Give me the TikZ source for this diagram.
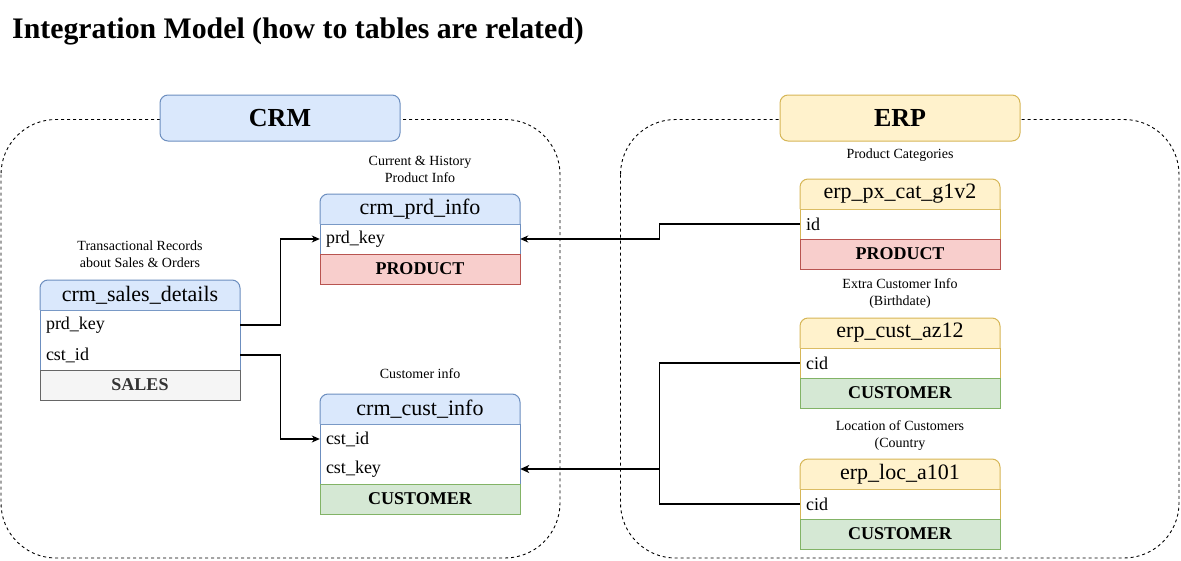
\documentclass[tikz,border=0pt]{standalone}
\usepackage{fontspec}
\setmainfont{Liberation Serif}
\usetikzlibrary{arrows.meta,calc}
\definecolor{bluef}{HTML}{DAE8FC}
\definecolor{blues}{HTML}{6C8EBF}
\definecolor{yelf}{HTML}{FFF2CC}
\definecolor{yels}{HTML}{D6B656}
\definecolor{redf}{HTML}{F8CECC}
\definecolor{reds}{HTML}{B85450}
\definecolor{grnf}{HTML}{D5E8D4}
\definecolor{grns}{HTML}{82B366}
\definecolor{gryf}{HTML}{F5F5F5}
\definecolor{grys}{HTML}{666666}
\definecolor{grytxt}{HTML}{333333}
% #1 name, #2 x, #3 top y, #4 fill, #5 stroke, #6 text, #7 number of rows
\newcommand\mytable[7]{%
  \path[fill=white,draw=#5,line width=1pt] (#2,#3+30) rectangle (#2+200,#3+30+30*#7);
  \path[fill=#4,draw=#5,line width=1pt,rounded corners=8] (#2,#3+30) -- (#2,#3) -- (#2+200,#3) -- (#2+200,#3+30);
  \node[hdrtext] (#1) at (#2+100,#3+15) {#6};
}
\tikzset{
  hdrtext/.style={inner sep=0pt,font=\fontsize{22}{26}\selectfont},
  rowtext/.style={minimum width=200pt,minimum height=30pt,text width=188pt,align=left,inner xsep=6pt,inner ysep=0pt,font=\fontsize{18}{21}\selectfont},
  foot/.style={minimum width=200pt,minimum height=30pt,inner sep=0pt,line width=1pt,font=\fontsize{18}{21}\selectfont\bfseries},
  note/.style={align=center,inner sep=0pt,font=\fontsize{14}{17}\selectfont},
  titlebox/.style={minimum width=240pt,minimum height=46pt,rounded corners=8pt,line width=1pt,font=\fontsize{26}{30}\selectfont\bfseries},
  container/.style={draw=black,line width=0.9pt,dash pattern=on 3pt off 3pt,rounded corners=55pt},
  conn/.style={draw=black,line width=1.2pt,-{Stealth[length=8pt,width=7pt,inset=2.5pt]}},
  plain/.style={draw=black,line width=1.2pt},
  thickconn/.style={draw=black,line width=2pt,-{Stealth[length=9pt,width=8pt,inset=2.5pt]}}
}
\begin{document}
\begin{tikzpicture}[x=1pt,y=-1pt]
\useasboundingbox (0,0) rectangle (1181,560);
% title
\node[anchor=base west,inner sep=0pt,font=\fontsize{29.8}{34}\selectfont\bfseries] (title) at (12,38) {Integration Model (how to tables are related)};
% containers
\path[container] (1,119.5) rectangle (560,558);
\path[container] (620.5,119.5) rectangle (1179,558);
\node[titlebox,fill=bluef,draw=blues] (crm) at (280,118) {CRM};
\node[titlebox,fill=yelf,draw=yels] (erp) at (900,118) {ERP};
% notes
\node[note] (n1) at (420,169.5) {Current \& History\\Product Info};
\node[note] (n2) at (140,254.5) {Transactional Records\\about Sales \& Orders};
\node[note] (n3) at (420,374) {Customer info};
\node[note] (n4) at (900,155) {Product Categories};
\node[note] (n5) at (900,294) {Extra Customer Info\\(Birthdate)};
\node[note] (n6) at (900,435.5) {Location of Customers\\(Country};
% crm_sales_details
\mytable{sd}{40}{280}{bluef}{blues}{crm\_sales\_details}{2}
\node[rowtext] (sd_prd) at (140,325) {prd\_key};
\node[rowtext] (sd_cst) at (140,355) {cst\_id};
\node[foot,fill=gryf,draw=grys,text=grytxt] (sd_foot) at (140,385) {SALES};
% crm_prd_info
\mytable{pi}{320}{194}{bluef}{blues}{crm\_prd\_info}{1}
\node[rowtext] (pi_prd) at (420,239) {prd\_key};
\node[foot,fill=redf,draw=reds] (pi_foot) at (420,269) {PRODUCT};
% crm_cust_info
\mytable{ci}{320}{394}{bluef}{blues}{crm\_cust\_info}{2}
\node[rowtext] (ci_id) at (420,439) {cst\_id};
\node[rowtext] (ci_key) at (420,469) {cst\_key};
\node[foot,fill=grnf,draw=grns] (ci_foot) at (420,499) {CUSTOMER};
% erp_px_cat_g1v2
\mytable{px}{800}{179}{yelf}{yels}{erp\_px\_cat\_g1v2}{1}
\node[rowtext] (px_id) at (900,224) {id};
\node[foot,fill=redf,draw=reds] (px_foot) at (900,254) {PRODUCT};
% erp_cust_az12
\mytable{az}{800}{318}{yelf}{yels}{erp\_cust\_az12}{1}
\node[rowtext] (az_cid) at (900,363) {cid};
\node[foot,fill=grnf,draw=grns] (az_foot) at (900,393) {CUSTOMER};
% erp_loc_a101
\mytable{loc}{800}{459}{yelf}{yels}{erp\_loc\_a101}{1}
\node[rowtext] (loc_cid) at (900,504) {cid};
\node[foot,fill=grnf,draw=grns] (loc_foot) at (900,534) {CUSTOMER};
% connectors
\draw[conn] (sd_prd.east) -- ++(40,0) |- (pi_prd.west);
\draw[conn] (sd_cst.east) -- ++(40,0) |- (ci_id.west);
\draw[conn] (px_id.west) -- ++(-140,0) |- (pi_prd.east);
\draw[plain] (az_cid.west) -- ++(-140,0) |- (loc_cid.west);
\coordinate (jn) at ([xshift=-140pt]az_cid.west |- ci_key.east);
\draw[thickconn] (jn) -- (ci_key.east);
\end{tikzpicture}
\end{document}
